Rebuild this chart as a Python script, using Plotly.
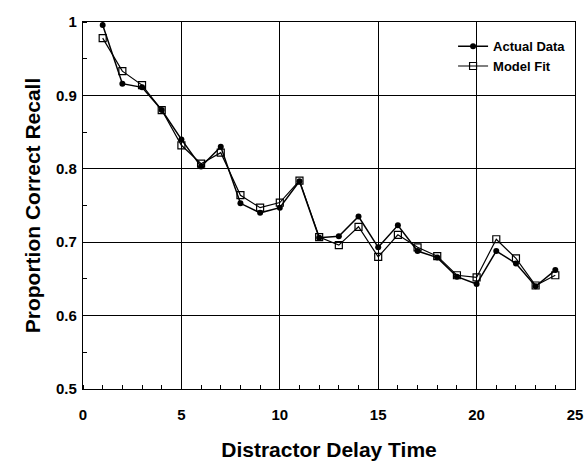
import plotly.graph_objects as go

delay = list(range(1, 25))
actual = [0.996, 0.916, 0.911, 0.880, 0.840, 0.803, 0.830, 0.753, 0.740, 0.747,
          0.783, 0.706, 0.708, 0.735, 0.693, 0.723, 0.688, 0.679, 0.653, 0.643,
          0.688, 0.671, 0.640, 0.662]
model = [0.978, 0.933, 0.914, 0.880, 0.832, 0.807, 0.822, 0.764, 0.747, 0.754,
         0.784, 0.707, 0.696, 0.721, 0.680, 0.710, 0.693, 0.681, 0.655, 0.652,
         0.704, 0.678, 0.641, 0.655]
xticks = [0, 5, 10, 15, 20, 25]
yticks = [0.5, 0.6, 0.7, 0.8, 0.9, 1.0]
yticklabels = ["0.5", "0.6", "0.7", "0.8", "0.9", "1"]

fig = go.Figure()
fig.add_trace(go.Scatter(x=delay, y=model, mode="lines+markers", name="Model Fit",
                         line=dict(color="black", width=1.2),
                         marker=dict(symbol="square-open", size=7, color="black",
                                     line=dict(width=1.2))))
fig.add_trace(go.Scatter(x=delay, y=actual, mode="lines+markers", name="Actual Data",
                         line=dict(color="black", width=1.5),
                         marker=dict(symbol="circle", size=6, color="black")))

fam = "Liberation Sans, Arial"
fig.update_layout(
    width=586, height=465,
    margin=dict(l=83, r=11, t=22, b=76),
    plot_bgcolor="white", paper_bgcolor="white",
    font=dict(family=fam, color="black"),
    legend=dict(x=0.992, y=0.975, xanchor="right", yanchor="top",
                bgcolor="rgba(0,0,0,0)", borderwidth=0, traceorder="reversed",
                font=dict(size=13, family=fam, weight="bold"),
                itemwidth=30, tracegroupgap=0),
    showlegend=True,
)
fig.update_xaxes(range=[0, 25], tickvals=xticks, ticks="", showgrid=True,
                 gridcolor="black", gridwidth=1, showline=True, linecolor="black",
                 linewidth=1.2, mirror=True, zeroline=False, automargin=False,
                 ticklabeloverflow="allow", ticklabelstandoff=12,
                 tickfont=dict(size=15, weight="bold"),
                 minor=dict(dtick=1, ticks="inside", ticklen=4, tickcolor="black", showgrid=False),
                 title=dict(text="Distractor Delay Time", font=dict(size=21, weight="bold"), standoff=20))
fig.update_yaxes(range=[0.5, 1.0], tickvals=yticks, ticktext=yticklabels, ticks="",
                 showgrid=True, gridcolor="black", gridwidth=1, showline=True,
                 linecolor="black", linewidth=1.2, mirror=True, zeroline=False, automargin=False,
                 ticklabeloverflow="allow", ticklabelstandoff=2,
                 tickfont=dict(size=15, weight="bold"),
                 minor=dict(dtick=0.05, ticks="inside", ticklen=4, tickcolor="black", showgrid=False),
                 title=dict(text="Proportion Correct Recall", font=dict(size=21, weight="bold"), standoff=9))

fig.write_html("out.html", config={"displayModeBar": False},
               post_script="document.body.style.margin='0';document.body.style.overflow='hidden';")
